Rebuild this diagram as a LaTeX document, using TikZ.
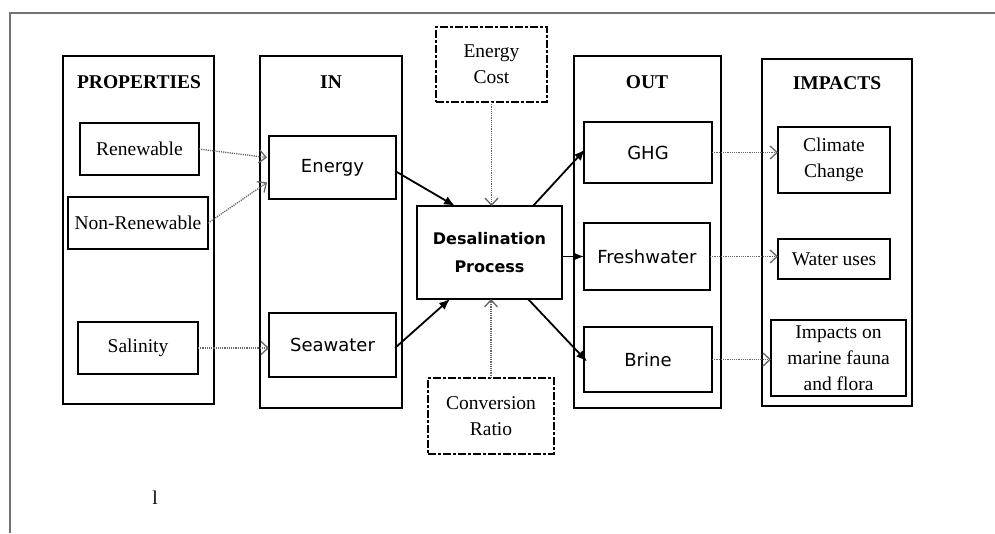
\documentclass[tikz,border=0pt]{standalone}
\usepackage{fontspec}
\setmainfont{Liberation Serif}
\newfontfamily\comicf{DejaVu Sans}
\usetikzlibrary{arrows.meta,calc}
\begin{document}
\begin{tikzpicture}[x=1pt,y=-1pt,
  every node/.style={inner sep=0pt,outer sep=0pt},
  serif/.style={font=\fontsize{19.5}{26}\selectfont,align=center},
  comic/.style={font=\comicf\fontsize{18}{24}\selectfont,align=center},
  bigbox/.style={draw,line width=1.8pt,rectangle},
  smallbox/.style={draw,line width=1.8pt,rectangle},
  dbox/.style={draw,line width=1.5pt,rectangle,dash pattern=on 8pt off 2pt on 3pt off 2pt},
  title/.style={font=\fontsize{19.5}{24}\selectfont\bfseries},
  dotarrow/.style={draw=black!60,line width=1.3pt,dash pattern=on 1.2pt off 1pt,
     -{Straight Barb[length=7pt,width=13pt,line width=1.3pt]}},
  solidarrow/.style={draw=black,line width=1.8pt,-{Latex[length=11pt,width=9pt]}},
  framel/.style={draw=black!55,line width=1.5pt}]
\useasboundingbox (0,0) rectangle (995,533);
% partial outer frame
\coordinate (fb) at (10,533);
\coordinate (fc) at (10,13);
\coordinate (fr) at (995,13);
\draw[framel] (fb) -- (fc) -- (fr);
% column boxes
\node[bigbox,minimum width=151pt,minimum height=348pt] (props) at (138.5,230) {};
\node[bigbox,minimum width=142pt,minimum height=352pt] (in) at (331,232) {};
\node[bigbox,minimum width=147pt,minimum height=352pt] (out) at (647.5,232) {};
\node[bigbox,minimum width=150pt,minimum height=347pt] (impacts) at (837,232.5) {};
\node[title] (tprops) at (139,82) {PROPERTIES};
\node[title] (tin) at (331,82) {IN};
\node[title] (tout) at (647,82) {OUT};
\node[title] (timp) at (837,83) {IMPACTS};
% properties
\node[smallbox,serif,minimum width=119pt,minimum height=52pt] (ren) at (139.5,149) {Renewable};
\node[smallbox,serif,minimum width=140pt,minimum height=52pt] (nonren) at (138,223) {Non-Renewable};
\node[smallbox,serif,minimum width=120pt,minimum height=52pt] (sal) at (138,348) {Salinity};
% in
\node[smallbox,comic,minimum width=127pt,minimum height=63pt] (energy) at (332.5,167.5) {Energy};
\node[smallbox,comic,minimum width=127pt,minimum height=64pt] (sea) at (332.5,345) {Seawater};
% middle
\node[dbox,serif,minimum width=111pt,minimum height=75pt] (ecost) at (491.5,64.5) {Energy\\Cost};
\node[smallbox,minimum width=145pt,minimum height=93pt,align=center,
      font=\comicf\bfseries\fontsize{16}{28}\selectfont] (desal) at (489.5,252.5) {Desalination\\Process};
\node[dbox,serif,minimum width=126pt,minimum height=76pt] (conv) at (491,416) {Conversion\\Ratio};
% out
\node[smallbox,comic,minimum width=128pt,minimum height=61pt] (ghg) at (648,152.5) {GHG};
\node[smallbox,comic,minimum width=126pt,minimum height=67pt] (fresh) at (647,256.5) {Freshwater};
\node[smallbox,comic,minimum width=128pt,minimum height=65pt] (brine) at (648,359.5) {Brine};
% impacts
\node[smallbox,serif,minimum width=112pt,minimum height=66pt] (clim) at (834,160) {Climate\\Change};
\node[smallbox,serif,minimum width=112pt,minimum height=40pt] (water) at (834,259) {Water uses};
\node[smallbox,serif,minimum width=135pt,minimum height=76pt] (marine) at (838.5,358) {Impacts on\\marine fauna\\and flora};
% stray character
\node[serif] (stray) at (155,498) {l};
% dotted arrows
\draw[dotarrow] (ren.east) -- ($(energy.west)+(-2,-10)$);
\draw[dotarrow] (nonren.east) -- ($(energy.west)+(-2,15)$);
\draw[dotarrow] (sal.east) -- (sal.east -| sea.west);
\draw[dotarrow] (ecost.south) -- (ecost.south |- desal.north);
\draw[dotarrow] (conv.north) -- (conv.north |- desal.south);
\draw[dotarrow] (ghg.east) -- (ghg.east -| clim.west);
\draw[dotarrow] (fresh.east) -- (fresh.east -| water.west);
\draw[dotarrow] (brine.east) -- (brine.east -| marine.west);
% solid arrows
\draw[solidarrow] ($(energy.east)+(0,4)$) -- ($(desal.north west)+(38,0)$);
\draw[solidarrow] ($(sea.east)+(-1,3)$) -- ($(desal.south west)+(33,0)$);
\draw[solidarrow] ($(desal.north west)+(116,0)$) -- ($(ghg.west)+(1,-3)$);
\draw[solidarrow] (desal.east |- fresh.west) -- (fresh.west);
\draw[solidarrow] ($(desal.south west)+(111,0)$) -- ($(brine.west)+(3,2)$);
\end{tikzpicture}
\end{document}
